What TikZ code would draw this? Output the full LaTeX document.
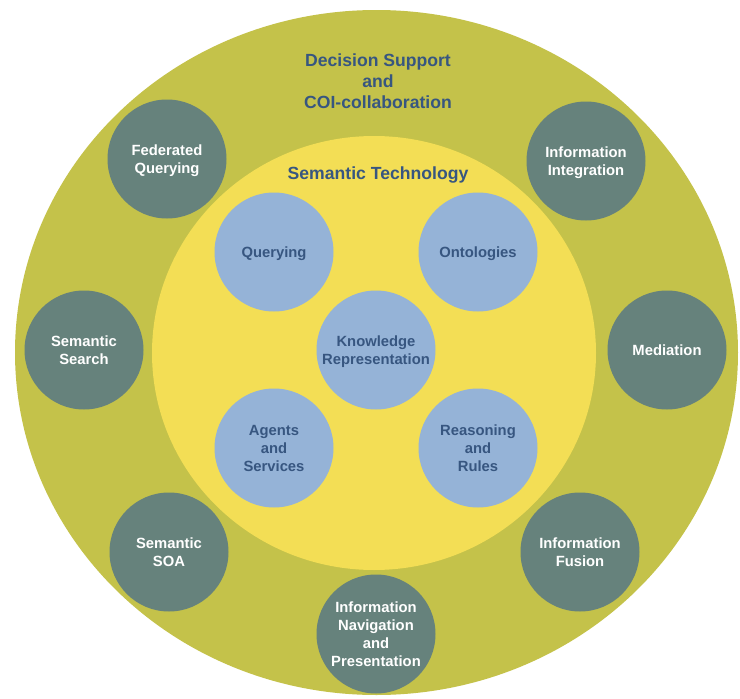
\documentclass[tikz,border=0pt]{standalone}
\usepackage{fontspec}
\setmainfont{Liberation Sans}
\usetikzlibrary{positioning}
\definecolor{olivebg}{RGB}{196,194,74}
\definecolor{yellowbg}{RGB}{243,222,85}
\definecolor{bluecirc}{RGB}{149,179,215}
\definecolor{darkcirc}{RGB}{102,130,124}
\definecolor{navytext}{RGB}{55,86,128}
\begin{document}
\begin{tikzpicture}[x=1pt,y=-1pt]
 \tikzset{app/.style={circle,fill=darkcirc,minimum size=119pt,inner sep=0pt,text depth=0pt,
        align=center,text=white,font=\bfseries\fontsize{14.8}{18}\selectfont}}
 \tikzset{tech/.style={circle,fill=bluecirc,minimum size=119pt,inner sep=0pt,text depth=0pt,
        align=center,text=navytext,font=\bfseries\fontsize{14.8}{18}\selectfont}}
 \tikzset{heading/.style={align=center,text=navytext,font=\bfseries\fontsize{17.6}{21}\selectfont}}
 \useasboundingbox (0,0) rectangle (740,699);
 % rings
 \fill[olivebg] (376.5,352.5) ellipse (361.5 and 342.5);
 \fill[yellowbg] (374,353) ellipse (222 and 217);
 \node[heading] (dss) at (378,81) {Decision Support\\and\\COI-collaboration};
 \node[heading] (st) at (378,175) {Semantic Technology};
 % outer applications
 \node[app] (fq) at (167,159) {Federated\\Querying};
 \node[app] (ii) at (586,161) {Information\\Integration};
 \node[app] (ss) at (84,350) {Semantic\\Search};
 \node[app] (med) at (667,350) {Mediation};
 \node[app] (soa) at (169,552) {Semantic\\SOA};
 \node[app] (fus) at (580,552) {Information\\Fusion};
 \node[app] (nav) at (376,634) {Information\\Navigation\\and\\Presentation};
 % semantic technology
 \node[tech] (qry) at (274,252) {Querying};
 \node[tech] (ont) at (478,252) {Ontologies};
 \node[tech] (kr) at (376,350) {Knowledge\\Representation};
 \node[tech] (ags) at (274,448) {Agents\\and\\Services};
 \node[tech] (rr) at (478,448) {Reasoning\\and\\Rules};
\end{tikzpicture}
\end{document}
